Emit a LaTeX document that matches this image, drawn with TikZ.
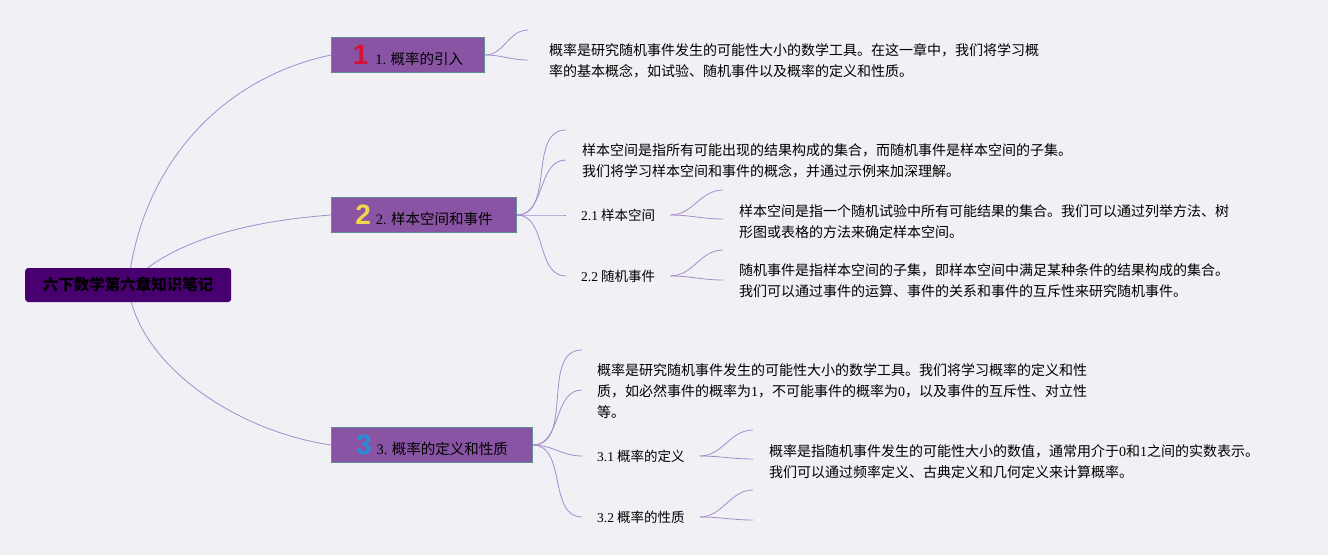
\documentclass[tikz,border=0pt]{standalone}
\usepackage{fontspec}
\setmainfont{Noto Sans CJK SC}
\newfontfamily\latfont{Liberation Serif}
\newfontfamily\digitfont{Liberation Sans}
\usetikzlibrary{positioning}
\pgfdeclarelayer{background}
\pgfsetlayers{background,main}
\definecolor{bgcol}{RGB}{241,240,245}
\definecolor{rootcol}{RGB}{72,0,112}
\definecolor{boxcol}{RGB}{137,84,163}
\definecolor{boxline}{RGB}{96,140,150}
\definecolor{linkcol}{RGB}{165,140,205}
\definecolor{onecol}{RGB}{212,20,55}
\definecolor{twocol}{RGB}{242,214,75}
\definecolor{threecol}{RGB}{40,140,215}
\newcommand\en[1]{{\latfont #1}}
\newcommand\badge[2]{\textcolor{#1}{\digitfont\bfseries\fontsize{28}{28}\selectfont #2}}

\begin{document}
\begin{tikzpicture}[x=1pt,y=-1pt,
  root/.style={fill=rootcol,rounded corners=3pt,minimum width=206pt,minimum height=34pt,anchor=west,font=\fontsize{15.5}{18}\selectfont\bfseries},
  topic/.style={fill=boxcol,draw=boxline,line width=0.8pt,minimum height=35pt,anchor=west,font=\fontsize{14.5}{17}\selectfont},
  sub/.style={inner xsep=15pt,inner ysep=2pt,anchor=west,font=\fontsize{13.5}{17}\selectfont},
  note/.style={inner sep=0pt,anchor=west,align=left,font=\fontsize{14}{21}\selectfont},
  link/.style={draw=linkcol,line width=0.8pt}]
\useasboundingbox (0,0) rectangle (1328,555);
\begin{pgfonlayer}{background}
\fill[bgcol] (0,0) rectangle (1328,555);
\end{pgfonlayer}

\node[root] (root) at (25,285) {六下数学第六章知识笔记};

\node[topic,minimum width=153pt] (intro) at (331,55) {\badge{onecol}{1}\kern7pt\en{1.} 概率的引入};
\node[topic,minimum width=185pt] (space) at (331,215) {\badge{twocol}{2}\kern5pt\en{2.} 样本空间和事件};
\node[topic,minimum width=201pt] (prob) at (331,445) {\badge{threecol}{3}\kern5pt\en{3.} 概率的定义和性质};

\node[note] (introtext) at (549,61) {概率是研究随机事件发生的可能性大小的数学工具。在这一章中，我们将学习概\\率的基本概念，如试验、随机事件以及概率的定义和性质。};

\node[note] (spacetext) at (582,161) {样本空间是指所有可能出现的结果构成的集合，而随机事件是样本空间的子集。\\我们将学习样本空间和事件的概念，并通过示例来加深理解。};
\node[sub] (sample) at (566,215) {\en{2.1} 样本空间};
\node[sub] (event) at (566,276) {\en{2.2} 随机事件};
\node[note] (sampletext) at (739,222) {样本空间是指一个随机试验中所有可能结果的集合。我们可以通过列举方法、树\\形图或表格的方法来确定样本空间。};
\node[note] (eventtext) at (739,281) {随机事件是指样本空间的子集，即样本空间中满足某种条件的结果构成的集合。\\我们可以通过事件的运算、事件的关系和事件的互斥性来研究随机事件。};

\node[note] (probtext) at (597,391) {概率是研究随机事件发生的可能性大小的数学工具。我们将学习概率的定义和性\\质，如必然事件的概率为\en{1}，不可能事件的概率为\en{0}，以及事件的互斥性、对立性\\等。};
\node[sub] (def) at (582,456) {\en{3.1} 概率的定义};
\node[sub] (prop) at (582,517) {\en{3.2} 概率的性质};
\node[note] (deftext) at (769,462) {概率是指随机事件发生的可能性大小的数值，通常用介于\en{0}和\en{1}之间的实数表示。\\我们可以通过频率定义、古典定义和几何定义来计算概率。};

\coordinate (i1) at (528,30);
\coordinate (i2) at (528,60);
\coordinate (s1) at (566,130);
\coordinate (s2) at (566,160);
\coordinate (sa1) at (723,190);
\coordinate (sa2) at (723,219);
\coordinate (ev1) at (723,250);
\coordinate (ev2) at (723,280);
\coordinate (p1) at (582,350);
\coordinate (p2) at (582,390);
\coordinate (df1) at (753,430);
\coordinate (df2) at (753,459);
\coordinate (pr1) at (753,490);
\coordinate (pr2) at (753,520);

\begin{pgfonlayer}{background}
\draw[link] (root.center) .. controls +(14,-125) and +(-105,22) .. (intro.west);
\draw[link] (root.center) .. controls +(42,-45) and +(-81,6) .. (space.west);
\draw[link] (root.center) .. controls +(7,75) and +(-101,-15) .. (prob.west);
\end{pgfonlayer}

\path[link]
(intro.east) edge[out=0,in=180] (i1)
             edge[out=0,in=180] (i2)
(space.east) edge[out=0,in=180] (s1)
             edge[out=0,in=180] (s2)
             edge[out=0,in=180] (sample.west)
             edge[out=0,in=180] (event.west)
(sample.east) edge[out=0,in=180] (sa1)
              edge[out=0,in=180] (sa2)
(event.east) edge[out=0,in=180] (ev1)
             edge[out=0,in=180] (ev2)
(prob.east) edge[out=0,in=180] (p1)
            edge[out=0,in=180] (p2)
            edge[out=0,in=180] (def.west)
            edge[out=0,in=180] (prop.west)
(def.east) edge[out=0,in=180] (df1)
           edge[out=0,in=180] (df2)
(prop.east) edge[out=0,in=180] (pr1)
            edge[out=0,in=180] (pr2);
\end{tikzpicture}
\end{document}
